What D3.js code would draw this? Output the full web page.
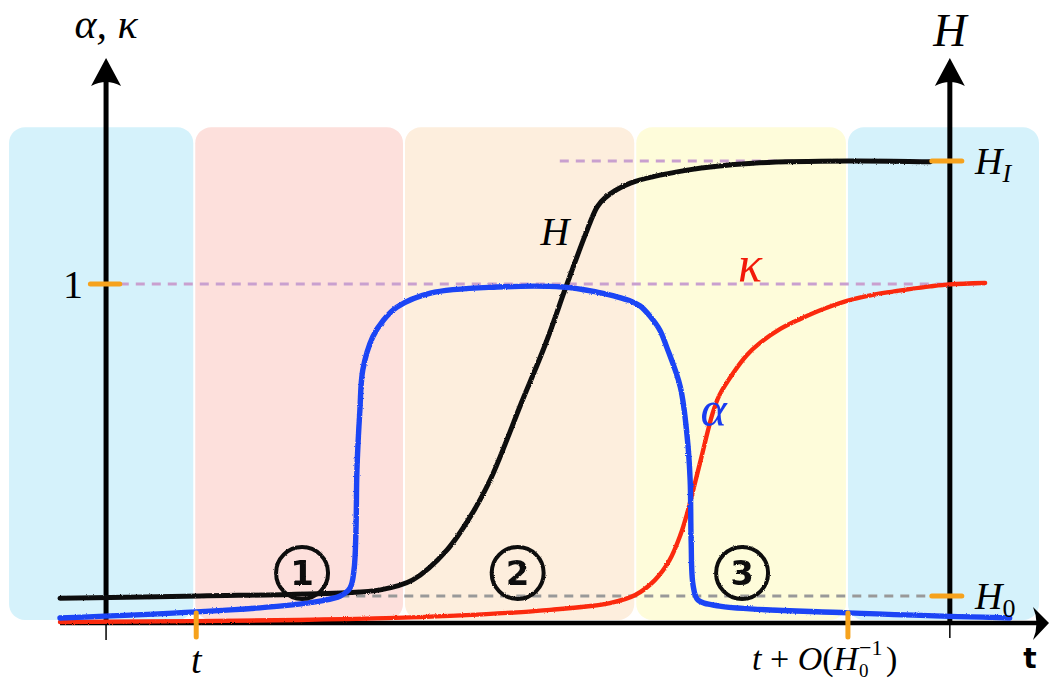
<!DOCTYPE html>
<html>
<head>
<meta charset="utf-8">
<script src="https://cdn.jsdelivr.net/npm/d3@7"></script>
<style>
  body { margin: 0; background: #fff; }
  svg { display: block; }
  .math { font-family: "Liberation Serif", "DejaVu Serif", serif; font-style: italic; }
  .num { font-family: "Liberation Serif", "DejaVu Serif", serif; }
</style>
</head>
<body>
<svg></svg>
<script>
// phases of the transition (time in arbitrary units, 0..100 across the plot)
const phaseEdges = [-5.3, 13.7, 35.1, 58.7, 80.3, 100];
const phaseColors = ["#d5f2fb", "#fde0dc", "#fdeedd", "#fefcda", "#d5f2fb"];
const phaseLabels = ["1", "2", "3"];
const phaseLabelT = [24.7, 46.7, 69.6];

// H (0 = H_0, 1 = H_I)
const hCurve = [
  [0, -0.005], [14.3, 0.0], [28.6, 0.007], [32.7, 0.014], [36.0, 0.037],
  [39.5, 0.106], [42.1, 0.191], [43.9, 0.267], [45.6, 0.359], [46.9, 0.434],
  [49.5, 0.577], [51.7, 0.715], [53.6, 0.83], [54.8, 0.894], [55.6, 0.915],
  [58.2, 0.949], [64.0, 0.979], [70.7, 0.995], [80.9, 1.0], [88.8, 0.998]
];

// alpha
const alphaCurve = [
  [0, 0.012], [13.9, 0.030], [22.4, 0.047], [26.5, 0.062], [28.6, 0.077],
  [29.6, 0.101], [30.0, 0.154], [30.2, 0.272], [30.3, 0.450], [30.6, 0.627],
  [30.9, 0.746], [31.9, 0.843], [33.0, 0.893], [34.4, 0.932], [37.8, 0.973],
  [44.6, 0.991], [51.3, 0.991], [54.8, 0.976], [56.6, 0.964], [58.2, 0.950],
  [59.2, 0.935], [60.2, 0.905], [61.2, 0.864], [61.9, 0.814], [63.3, 0.695],
  [64.0, 0.547], [64.3, 0.420], [64.4, 0.243], [64.6, 0.109], [65.1, 0.065],
  [67.3, 0.047], [80.4, 0.027], [96.9, 0.012]
];

// kappa
const kappaCurve = [
  [0, 0.0], [24.5, 0.006], [39.8, 0.018], [50.0, 0.036], [56.1, 0.056],
  [58.7, 0.080], [60.7, 0.124], [62.2, 0.183], [63.3, 0.257], [64.0, 0.322],
  [65.3, 0.470], [66.6, 0.618], [67.3, 0.672], [68.7, 0.737], [70.1, 0.790],
  [71.4, 0.825], [73.5, 0.867], [75.5, 0.896], [77.9, 0.926], [80.3, 0.950],
  [82.3, 0.964], [84.4, 0.975], [86.7, 0.985], [88.8, 0.993], [90.8, 0.999],
  [94.4, 1.003]
];

const leftAxisT = 4.7;
const rightAxisT = 90.8;
const tTicks = [13.9, 80.4];

const width = 1049, height = 682;
const svg = d3.select("svg").attr("width", width).attr("height", height);

const x = d3.scaleLinear().domain([0, 100]).range([60, 1040]);
const yA = d3.scaleLinear().domain([0, 1]).range([622, 284]);
const yH = d3.scaleLinear().domain([0, 1]).range([596, 161]);

const orange = "#f6a21c";

// rough pencil look
const defs = svg.append("defs");
const f = defs.append("filter").attr("id", "rough")
  .attr("x", "-5%").attr("y", "-5%").attr("width", "110%").attr("height", "110%");
f.append("feTurbulence").attr("type", "fractalNoise").attr("baseFrequency", 0.9)
  .attr("numOctaves", 2).attr("seed", 3).attr("result", "noise");
f.append("feDisplacementMap").attr("in", "SourceGraphic").attr("in2", "noise")
  .attr("scale", 2.2).attr("xChannelSelector", "R").attr("yChannelSelector", "G");

// background panels
svg.append("g").selectAll("rect")
  .data(d3.range(phaseColors.length))
  .join("rect")
  .attr("x", (i) => x(phaseEdges[i]) + 1)
  .attr("width", (i) => x(phaseEdges[i + 1]) - x(phaseEdges[i]) - 2)
  .attr("y", yA(1.464))
  .attr("height", yA(0.006) - yA(1.464))
  .attr("rx", 16)
  .attr("fill", (i) => phaseColors[i]);

// dashed guide lines
const guides = svg.append("g").attr("stroke-width", 3).attr("stroke-dasharray", "9,7");
guides.append("line").attr("stroke", "#c9a0cf")
  .attr("x1", x(51.0)).attr("x2", x(rightAxisT)).attr("y1", yH(1)).attr("y2", yH(1));
guides.append("line").attr("stroke", "#c9a0cf")
  .attr("x1", x(6.1)).attr("x2", x(94.4)).attr("y1", yA(1)).attr("y2", yA(1));
guides.append("line").attr("stroke", "#999")
  .attr("x1", x(28.6)).attr("x2", x(rightAxisT)).attr("y1", yH(0)).attr("y2", yH(0));

// axes
const axes = svg.append("g").attr("stroke", "#000").attr("fill", "none");
const xl = x(leftAxisT), xr = x(rightAxisT), y0 = 623;
axes.append("line").attr("x1", xl).attr("x2", xl).attr("y1", y0).attr("y2", 80).attr("stroke-width", 5);
axes.append("line").attr("x1", xl).attr("x2", xl).attr("y1", y0).attr("y2", 640).attr("stroke-width", 1.5);
axes.append("line").attr("x1", xr).attr("x2", xr).attr("y1", y0).attr("y2", 80).attr("stroke-width", 5);
axes.append("line").attr("x1", xr).attr("x2", xr).attr("y1", y0).attr("y2", 638).attr("stroke-width", 1.5);
axes.append("line").attr("x1", x(0)).attr("x2", 1040).attr("y1", y0).attr("y2", y0).attr("stroke-width", 4.5);

const arrowUp = (cx) => `M${cx},58 L${cx + 15},86 Q${cx},78 ${cx - 15},86 Z`;
svg.append("path").attr("d", arrowUp(xl)).attr("fill", "#000");
svg.append("path").attr("d", arrowUp(xr)).attr("fill", "#000");
svg.append("path").attr("d", `M1049,${y0} L1033,${y0 - 16} Q1040,${y0} 1033,${y0 + 17} Z`).attr("fill", "#000");

// curves
const line = (ys) => d3.line().x((d) => x(d[0])).y((d) => ys(d[1])).curve(d3.curveCatmullRom.alpha(0.5));

const curves = svg.append("g").attr("fill", "none").attr("stroke-linecap", "round");
function sketch(data, ys, color, w) {
  curves.append("path").attr("d", line(ys)(data)).attr("stroke", color)
    .attr("stroke-width", w).attr("filter", "url(#rough)");
  curves.append("path").attr("d", line(ys)(data)).attr("stroke", color)
    .attr("stroke-width", 1).attr("opacity", 0.6).attr("transform", "translate(0.8,-1.2)");
}
sketch(hCurve, yH, "#111", 5);
sketch(kappaCurve, yA, "#fb2a10", 4.4);
sketch(alphaCurve, yA, "#1a44f5", 5.4);

// orange ticks
const ticks = svg.append("g").attr("stroke", orange).attr("stroke-width", 5).attr("stroke-linecap", "round");
ticks.append("line").attr("x1", x(3.1)).attr("x2", x(6.1)).attr("y1", yA(1)).attr("y2", yA(1));
[0, 1].forEach((v) => {
  ticks.append("line").attr("x1", xr - 18).attr("x2", xr + 12).attr("y1", yH(v)).attr("y2", yH(v));
});
tTicks.forEach((t) => {
  ticks.append("line").attr("x1", x(t)).attr("x2", x(t)).attr("y1", 613).attr("y2", 637);
});

// circled phase numbers
const marks = svg.append("g").attr("filter", "url(#rough)");
phaseLabels.forEach((s, i) => {
  const cx = x(phaseLabelT[i]), cy = yA(0.145);
  marks.append("circle").attr("cx", cx).attr("cy", cy).attr("r", 26)
    .attr("fill", "none").attr("stroke", "#111").attr("stroke-width", 4);
  marks.append("text").attr("x", cx).attr("y", cy + 12).attr("text-anchor", "middle")
    .attr("font-family", "DejaVu Sans, sans-serif").attr("font-weight", "bold")
    .attr("font-size", 34).attr("fill", "#111").text(s);
});

// labels
const lab = (px, py, txt, size, cls, color, anchor) =>
  svg.append("text").attr("class", cls).attr("x", px).attr("y", py)
    .attr("font-size", size).attr("fill", color || "#000")
    .attr("text-anchor", anchor || "middle").text(txt);

lab(xl, 38, "α, κ", 42, "math");
lab(xr, 46, "H", 46, "math");
lab(x(50.5), 245, "H", 40, "math");
lab(x(70.4), 281, "κ", 50, "math", "#f21a0a");
lab(x(66.7), 426, "α", 50, "math", "#1a3cf0");
lab(73, 298, "1", 40, "num");

// H_I and H_0 on the right axis
[["I", yH(1)], ["0", yH(0)]].forEach(([sub, yy]) => {
  const t = svg.append("text").attr("class", "math").attr("x", 975).attr("y", yy + 13).attr("font-size", 38);
  t.append("tspan").text("H");
  t.append("tspan").attr("dy", 8).attr("font-size", 26)
    .attr("class", sub === "0" ? "num" : "math").attr("font-style", sub === "0" ? "normal" : "italic").text(sub);
});

// time tick labels
lab(x(tTicks[0]), 673, "t", 38, "math");
const tl = svg.append("g");
const part = tl.append("text").attr("class", "math").attr("x", 752).attr("y", 670).attr("font-size", 34);
part.append("tspan").text("t");
part.append("tspan").attr("font-style", "normal").text(" + ");
part.append("tspan").text("O");
part.append("tspan").attr("font-style", "normal").text("(");
part.append("tspan").text("H");
const plen = part.node().getComputedTextLength();
tl.append("text").attr("class", "num").attr("x", 752 + plen + 1).attr("y", 655).attr("font-size", 22).text("−1");
tl.append("text").attr("class", "num").attr("x", 752 + plen + 1).attr("y", 677).attr("font-size", 19).text("0");
tl.append("text").attr("class", "num").attr("x", 752 + plen + 28).attr("y", 670).attr("font-size", 34).text(")");

svg.append("text").attr("x", 1030).attr("y", 668).attr("text-anchor", "middle")
  .attr("font-family", "DejaVu Sans, sans-serif").attr("font-weight", "bold").attr("font-size", 28).text("t");
</script>
</body>
</html>
